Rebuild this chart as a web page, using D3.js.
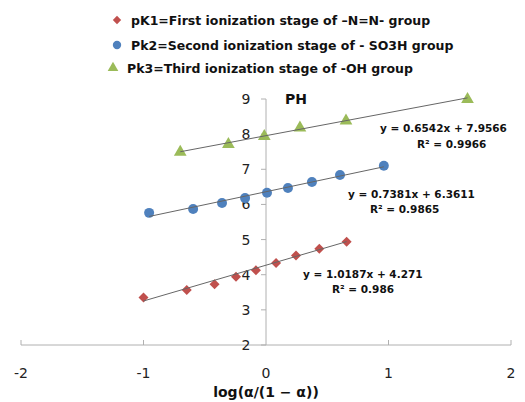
<!DOCTYPE html>
<html><head><meta charset="utf-8">
<script src="https://cdn.jsdelivr.net/npm/d3@7"></script>
<style>body{margin:0;background:#fff}svg{display:block}</style>
</head><body>
<script>
const pk1X = [-1.00, -0.647, -0.42, -0.245, -0.082, 0.082, 0.245, 0.435, 0.658];
const pk1Y = [3.35, 3.565, 3.73, 3.94, 4.13, 4.33, 4.55, 4.74, 4.94];
const pk2X = [-0.954, -0.595, -0.359, -0.171, 0.008, 0.179, 0.375, 0.604, 0.962];
const pk2Y = [5.76, 5.87, 6.04, 6.18, 6.33, 6.47, 6.64, 6.84, 7.10];
const pk3X = [-0.70, -0.307, -0.014, 0.277, 0.653, 1.645];
const pk3Y = [7.49, 7.71, 7.94, 8.18, 8.38, 8.99];
const fits = [
  {slope: 1.0187, intercept: 4.271, eq: "y = 1.0187x + 4.271", r2: "R² = 0.986"},
  {slope: 0.7381, intercept: 6.3611, eq: "y = 0.7381x + 6.3611", r2: "R² = 0.9865"},
  {slope: 0.6542, intercept: 7.9566, eq: "y = 0.6542x + 7.9566", r2: "R² = 0.9966"}
];
const legendLabels = [
  "pK1=First ionization stage of \u2013N=N- group",
  "Pk2=Second ionization stage of - SO3H group",
  "Pk3=Third ionization stage of -OH group"
];
const xTicks = [-2, -1, 0, 1, 2];
const yTicks = [2, 3, 4, 5, 6, 7, 8, 9];

const W = 525, H = 402;
const svg = d3.select("body").append("svg").attr("width", W).attr("height", H)
  .style("font-family", "'DejaVu Sans', Verdana, sans-serif");

const x = d3.scaleLinear().domain([-2, 2]).range([21, 511]);
const y = d3.scaleLinear().domain([2, 9]).range([345, 99]);
const axisCol = "#b0b0b0";

// x axis
const gx = svg.append("g").attr("transform", `translate(0,${y(2)})`);
gx.append("line").attr("x1", x(-2)).attr("x2", x(2)).attr("stroke", axisCol);
gx.selectAll(".t").data(xTicks.filter(d => d !== 0)).enter().append("line")
  .attr("x1", d => x(d)).attr("x2", d => x(d)).attr("y1", 0).attr("y2", -5).attr("stroke", axisCol);
gx.selectAll("text").data(xTicks).enter().append("text")
  .attr("x", d => x(d)).attr("y", 33).attr("text-anchor", "middle")
  .attr("font-size", 14).attr("fill", "#222").text(d => d);

// y axis
const gy = svg.append("g").attr("transform", `translate(${x(0)},0)`);
gy.append("line").attr("y1", y(2)).attr("y2", y(9)).attr("stroke", axisCol);
gy.selectAll(".t").data(yTicks).enter().append("line")
  .attr("x1", -5).attr("x2", 0).attr("y1", d => y(d)).attr("y2", d => y(d)).attr("stroke", axisCol);
gy.selectAll("text").data(yTicks).enter().append("text")
  .attr("x", -20).attr("y", d => y(d) + 5).attr("text-anchor", "middle")
  .attr("font-size", 14).attr("fill", "#222").text(d => d);

svg.append("text").attr("x", x(0) + 19).attr("y", 104).attr("font-size", 14)
  .attr("font-weight", "bold").attr("fill", "#111").text("PH");
svg.append("text").attr("x", x(0)).attr("y", 397).attr("text-anchor", "middle")
  .attr("font-size", 14).attr("font-weight", "bold").attr("fill", "#111").text("log(\u03b1/(1 \u2212 \u03b1))");

const series = [
  {xs: pk1X, ys: pk1Y, color: "#C0504D", shape: d3.symbolSquare, size: 50, rot: 45},
  {xs: pk2X, ys: pk2Y, color: "#4F81BD", shape: d3.symbolCircle, size: 78, rot: 0},
  {xs: pk3X, ys: pk3Y, color: "#9BBB59", shape: d3.symbolTriangle, size: 70, rot: 0}
];

series.forEach(s => {
  svg.append("g").selectAll("path").data(s.xs).enter().append("path")
    .attr("d", d3.symbol().type(s.shape).size(s.size))
    .attr("transform", (d, j) => `translate(${x(d)},${y(s.ys[j])}) rotate(${s.rot})`)
    .attr("fill", s.color);
});
series.forEach((s, i) => {
  const f = fits[i];
  const x0 = d3.min(s.xs), x1 = d3.max(s.xs);
  svg.append("line").attr("x1", x(x0)).attr("y1", y(f.slope * x0 + f.intercept))
    .attr("x2", x(x1)).attr("y2", y(f.slope * x1 + f.intercept))
    .attr("stroke", "#666").attr("stroke-width", 1);
});

// equation labels
const eqPos = [[303, 278, 332, 293], [348, 198, 370, 213], [380, 132, 417, 148]];
fits.forEach((f, i) => {
  const p = eqPos[i];
  svg.append("text").attr("x", p[0]).attr("y", p[1]).attr("font-size", 10.5)
    .attr("font-weight", "bold").attr("fill", "#111").text(f.eq);
  svg.append("text").attr("x", p[2]).attr("y", p[3]).attr("font-size", 10.5)
    .attr("font-weight", "bold").attr("fill", "#111").text(f.r2);
});

// legend
const legY = [20, 45, 68];
const legMX = [117, 117, 113];
const legTX = [131, 131, 127];
series.forEach((s, i) => {
  svg.append("path").attr("d", d3.symbol().type(s.shape).size(s.size * 0.7))
    .attr("transform", `translate(${legMX[i]},${legY[i]}) rotate(${s.rot})`).attr("fill", s.color);
  svg.append("text").attr("x", legTX[i]).attr("y", legY[i] + 5).attr("font-size", 12.5)
    .attr("font-weight", "bold").attr("fill", "#111").text(legendLabels[i]);
});
</script>
</body></html>
